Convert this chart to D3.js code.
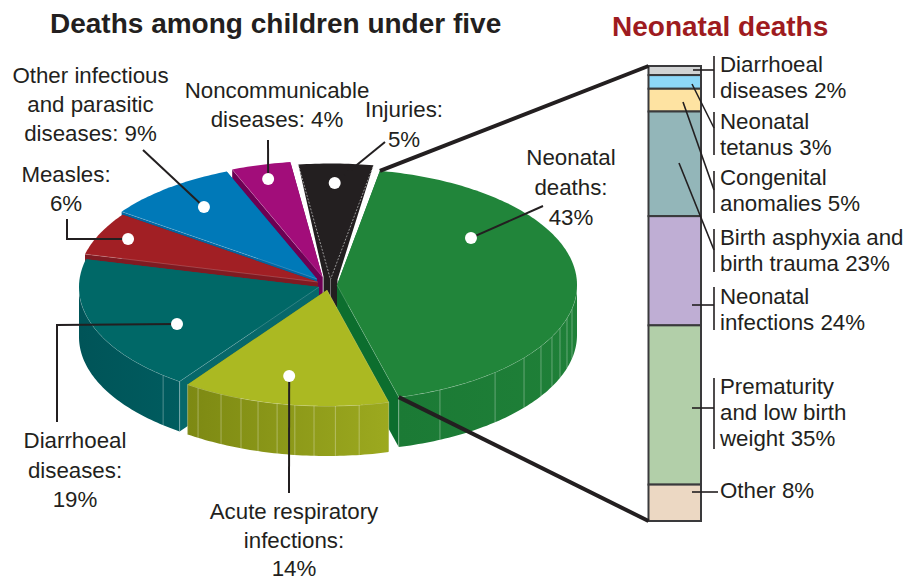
<!DOCTYPE html>
<html>
<head>
<meta charset="utf-8">
<title>Deaths among children under five</title>
<script src="https://cdn.jsdelivr.net/npm/d3@7"></script>
<style>
  html, body { margin: 0; padding: 0; background: #fff; }
  svg { display: block; }
  text { font-family: "Liberation Sans", Arial, sans-serif; fill: #231f20; }
</style>
</head>
<body>
<div id="chartDiv"></div>
<script>
// Data (pie goes clockwise from the neonatal slice)
const causes = ["Neonatal deaths", "Acute respiratory infections", "Diarrhoeal diseases", "Measles",
     "Other infectious and parasitic diseases", "Noncommunicable diseases", "Injuries"];
const causeValues = [43, 14, 19, 6, 9, 4, 5];
const causeLabels = [
     ["Neonatal", "deaths:", "43%"],
     ["Acute respiratory", "infections:", "14%"],
     ["Diarrhoeal", "diseases:", "19%"],
     ["Measles:", "6%"],
     ["Other infectious", "and parasitic", "diseases: 9%"],
     ["Noncommunicable", "diseases: 4%"],
     ["Injuries:", "5%"]
];
const neonatalCauses = ["Diarrhoeal diseases", "Neonatal tetanus", "Congenital anomalies",
     "Birth asphyxia and birth trauma", "Neonatal infections", "Prematurity and low birth weight", "Other"];
const neonatalValues = [2, 3, 5, 23, 24, 35, 8];
const neonatalLabels = [
     ["Diarrhoeal", "diseases 2%"],
     ["Neonatal", "tetanus 3%"],
     ["Congenital", "anomalies 5%"],
     ["Birth asphyxia and", "birth trauma 23%"],
     ["Neonatal", "infections 24%"],
     ["Prematurity", "and low birth", "weight 35%"],
     ["Other 8%"]
];

// Dimensions
const width = 921, height = 581;
const rx = 240, ry = 116, depth = 50;
const toRad = Math.PI / 180;
const pieStart = 10.3 * toRad; // d3.pie angle of the first slice

// Look of the pie, same order as causes
const faceColors = ["#21853a", "#abb922", "#006867", "#a11f24", "#0079b8", "#a20d7a", "#231f20"];
const cutColors = ["#0c6e2e", "#7f8a14", "#07686a", "#7f1a22", "#0365a0", "#6d0054", "#231f20"];
const wallLeft = ["#1b7a35", "#7d8913", "#005458", "#7f1a22", "#0365a0", "#6d0054", "#231f20"];
const wallRight = ["#1f8038", "#9ca91f", "#005c5f", "#7f1a22", "#0365a0", "#6d0054", "#231f20"];
const centers = [[337, 285], [327, 290], [319, 287], [318, 282], [317, 279], [322.5, 277], [330.5, 279.5]];
const wallLines = [[11.7, 16.6, 21.7, 26.4, 31.8, 38.8, 48.8, 64.6], [82.3, 88, 93.1, 97.7, 102, 106.7, 111, 116.2, 122.5], [130.5], [], [], [], []];
const drawOrder = [6, 5, 4, 3, 2, 0, 1];

// Dots: angle on the ellipse (degrees from 3 o'clock) and fraction of the radius
const dotAngles = [-36, 102, 151.7, 205.1, 232.8, 255, 271.2];
const dotRadii = [0.69, 0.758, 0.672, 0.874, 0.779, 0.875, 0.832];

// Leader ends and label places of the pie
const leaderEnds = [
     [[543, 206]],
     [[289, 493]],
     [[57, 325], [57, 422]],
     [[67, 239], [67, 219]],
     [[143, 150]],
     [[268, 140]],
     [[385, 142]]
];
const labelX = [571, 294, 75, 66, 90.5, 277, 404];
const labelY = [165, 519, 448, 182, 83, 98, 117];
const labelStep = [30, 28.5, 29.5, 29, 29.2, 29, 30];

// Bar on the right
const barLeft = 648.5, barWidth = 52.5;
const barColors = ["#d1d3d4", "#8dd8f8", "#fee3a2", "#93b6b9", "#bfaed4", "#b2cfa9", "#ecd8c3"];
const barY = d3.scaleLinear().domain([0, d3.sum(neonatalValues)]).range([66, 521]);
const barTotals = [0].concat(Array.from(d3.cumsum(neonatalValues)));

// Bar leaders: start inside the bar, end on the bracket, bracket top and bottom
const bracketX = 714;
const barLeaders = [
     {from: [693, 70], to: [714, 70], top: 56, bottom: 98},
     {from: [692, 84], to: [714, 128], top: 112, bottom: 155},
     {from: [683, 102], to: [714, 190], top: 171, bottom: 213},
     {from: [679, 163], to: [714, 250], top: 229, bottom: 272},
     {from: [692, 305], to: [714, 305], top: 287, bottom: 330},
     {from: [692, 408], to: [714, 408], top: 378, bottom: 449},
     {from: [692, 492], to: [718, 492], top: null, bottom: null}
];
const barLabelY = [72, 129, 185, 245, 304, 394, 498];
const barLabelStep = 26;

let svg = d3.select("#chartDiv")
     .append("svg")
     .attr("width", width)
     .attr("height", height);

let defs = svg.append("defs");

// Turn pie angle into a point on the squashed ellipse
function project(center, angle, frac) {
     let t = angle - Math.PI / 2;
     return [center[0] + frac * rx * Math.cos(t), center[1] + frac * ry * Math.sin(t)];
}
function down(p, amount) {
     return [p[0], p[1] + amount];
}
function arcPoints(center, a0, a1) {
     let n = Math.max(2, Math.ceil(Math.abs(a1 - a0) / (1 * toRad)));
     return d3.range(n + 1).map(function(i) {
          return project(center, a0 + (a1 - a0) * i / n, 1);
     });
}

const line = d3.line();
const closed = function(points) { return line(points) + "Z"; };

const arcs = d3.pie().sort(null)
     .startAngle(pieStart)
     .endAngle(pieStart + 2 * Math.PI)(causeValues);

let pieLayer = svg.append("g").attr("class", "pie");

drawOrder.forEach(function(i) {
     let a = arcs[i];
     let c = centers[i];
     let g = pieLayer.append("g").attr("class", "slice").attr("data-name", causes[i]);
     let p0 = project(c, a.startAngle, 1);
     let p1 = project(c, a.endAngle, 1);

     // Injuries slice is drawn flat with a short stem, as in the source picture
     if (i == 6) {
          let stem = 28, half = 7;
          let outline = [[c[0] - half, c[1] - 3]].concat(arcPoints(c, a.startAngle, a.endAngle));
          outline.push([c[0] + half, c[1]], [c[0] + half, c[1] + stem], [c[0] - half, c[1] + stem]);
          g.append("path").attr("d", closed(outline)).attr("fill", faceColors[i]);
          g.append("path")
               .attr("d", line([p0, c, p1]))
               .attr("fill", "none")
               .attr("stroke", "#b5b5b5")
               .attr("stroke-width", 0.8)
               .attr("stroke-dasharray", "2,1.5");
          g.append("path")
               .attr("d", line([c, down(c, stem)]))
               .attr("stroke", "#8a8a8a")
               .attr("stroke-width", 0.8);
          return;
     }

     // Cut walls
     [[p0, a.startAngle], [p1, a.endAngle]].forEach(function(e) {
          g.append("path")
               .attr("d", closed([c, e[0], down(e[0], depth), down(c, depth)]))
               .attr("fill", cutColors[i]);
     });

     // Outer wall, only the part facing us
     let fromA = Math.max(a.startAngle, 90 * toRad);
     let toA = Math.min(a.endAngle, 270 * toRad);
     if (toA > fromA) {
          let top = arcPoints(c, fromA, toA);
          let bottom = top.map(function(p) { return down(p, depth); }).reverse();
          let gradId = "wall" + i;
          let grad = defs.append("linearGradient").attr("id", gradId)
               .attr("gradientUnits", "userSpaceOnUse")
               .attr("x1", d3.min(top, function(p) { return p[0]; })).attr("y1", 0)
               .attr("x2", d3.max(top, function(p) { return p[0]; })).attr("y2", 0);
          grad.append("stop").attr("offset", 0).attr("stop-color", wallLeft[i]);
          grad.append("stop").attr("offset", 1).attr("stop-color", wallRight[i]);
          g.append("path")
               .attr("d", closed(top.concat(bottom)))
               .attr("fill", "url(#" + gradId + ")");

          // Thin light seams on the wall
          wallLines[i].map(function(d) { return (d + 90) * toRad; }).concat([a.startAngle, a.endAngle])
               .filter(function(d) { return d >= fromA && d <= toA; })
               .forEach(function(d) {
                    let p = project(c, d, 1);
                    g.append("path")
                         .attr("d", line([p, down(p, depth)]))
                         .attr("stroke", "#ffffff")
                         .attr("stroke-opacity", 0.45)
                         .attr("stroke-width", 0.7);
               });
          g.append("path")
               .attr("d", line(top))
               .attr("fill", "none")
               .attr("stroke", "#ffffff")
               .attr("stroke-opacity", 0.5)
               .attr("stroke-width", 0.7);
     }

     // Top face
     g.append("path")
          .attr("d", closed([c].concat(arcPoints(c, a.startAngle, a.endAngle))))
          .attr("fill", faceColors[i]);
     g.append("path")
          .attr("d", line([c, i == 0 ? p1 : p0]))
          .attr("stroke", "#ffffff")
          .attr("stroke-opacity", 0.3)
          .attr("stroke-width", 0.6);
});

// Stacked bar
svg.append("g").attr("class", "bar")
     .selectAll("rect")
     .data(neonatalValues)
     .enter()
     .append("rect")
       .attr("x", barLeft)
       .attr("y", function(d, i) { return barY(barTotals[i]); })
       .attr("width", barWidth)
       .attr("height", function(d) { return barY(d) - barY(0); })
       .attr("fill", function(d, i) { return barColors[i]; })
       .attr("stroke", "#3a3a3c")
       .attr("stroke-width", 2);

// Thick lines from the neonatal slice to the bar
let neonatal = arcs[0];
[[neonatal.startAngle, 0], [neonatal.endAngle, d3.sum(neonatalValues)]].forEach(function(d) {
     let from = project(centers[0], d[0], 1);
     svg.append("path")
          .attr("d", line([from, [barLeft, barY(d[1])]]))
          .attr("stroke", "#231f20")
          .attr("stroke-width", 4)
          .attr("fill", "none");
});

// Leaders and dots of the pie
let dots = causes.map(function(d, i) {
     return project(centers[i], (dotAngles[i] + 90) * toRad, dotRadii[i]);
});
svg.append("g").attr("class", "leaders")
     .selectAll("path")
     .data(leaderEnds)
     .enter()
     .append("path")
       .attr("d", function(d, i) { return line([dots[i]].concat(d)); })
       .attr("fill", "none")
       .attr("stroke", "#231f20")
       .attr("stroke-width", 2);

svg.append("g").attr("class", "dots")
     .selectAll("circle")
     .data(dots)
     .enter()
     .append("circle")
       .attr("cx", function(d) { return d[0]; })
       .attr("cy", function(d) { return d[1]; })
       .attr("r", 6)
       .attr("fill", "#ffffff");

// Leaders and brackets of the bar
let barLeaderG = svg.append("g").attr("class", "bar-leaders")
     .attr("stroke", "#231f20")
     .attr("stroke-width", 1.6)
     .attr("fill", "none");
barLeaders.forEach(function(d) {
     barLeaderG.append("path").attr("d", line([d.from, d.to]));
     if (d.top != null) {
          barLeaderG.append("path").attr("d", line([[bracketX, d.top], [bracketX, d.bottom]]));
     }
});

// Texts
const labelSize = 22.3;
causeLabels.forEach(function(lines, i) {
     let t = svg.append("text")
          .attr("text-anchor", "middle")
          .attr("font-size", labelSize);
     lines.forEach(function(s, j) {
          t.append("tspan")
               .attr("x", labelX[i])
               .attr("y", labelY[i] + j * labelStep[i])
               .text(s);
     });
});
neonatalLabels.forEach(function(lines, i) {
     let t = svg.append("text")
          .attr("font-size", labelSize);
     lines.forEach(function(s, j) {
          t.append("tspan")
               .attr("x", 720)
               .attr("y", barLabelY[i] + j * barLabelStep)
               .text(s);
     });
});

svg.append("text")
     .attr("x", 50)
     .attr("y", 33)
     .attr("font-size", 28)
     .attr("font-weight", "bold")
     .text("Deaths among children under five");

svg.append("text")
     .attr("x", 612)
     .attr("y", 36)
     .attr("font-size", 28)
     .attr("font-weight", "bold")
     .style("fill", "#9e1b20")
     .text("Neonatal deaths");
</script>
</body>
</html>
